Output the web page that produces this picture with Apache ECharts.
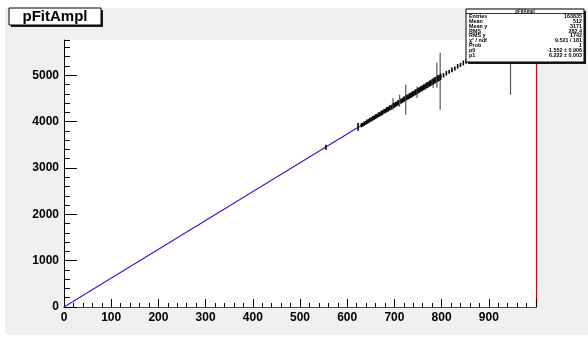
<!DOCTYPE html>
<html>
<head>
<meta charset="utf-8">
<script src="https://cdn.jsdelivr.net/npm/echarts@6/dist/echarts.min.js"></script>
<style>
  html, body { margin: 0; padding: 0; background: #ffffff; }
  #chart { width: 588px; height: 338px; }
</style>
</head>
<body>
<div id="chart"></div>
<script>
// Profile points: bin centre, mean amplitude, error on the mean
const profX = [555, 623, 630, 633, 636, 639, 642, 645, 648, 651, 654, 657, 660, 663, 666, 669, 672, 675, 678, 681,
  684, 687, 690, 693, 696, 697, 699, 702, 705, 708, 711, 714, 717, 720, 723, 724, 726, 729, 732, 735,
  738, 741, 744, 747, 748, 750, 753, 756, 759, 762, 765, 768, 771, 774, 777, 780, 782, 783, 786, 789,
  790, 792, 795, 797, 798, 804, 810, 816, 822, 828, 834, 840, 846, 852, 858, 864, 946];
const profY = [3445, 3885, 3921, 3934, 3958, 3971, 3996, 4009, 4033, 4046, 4070, 4083, 4108, 4120, 4145, 4158, 4182, 4195, 4220, 4232,
  4257, 4270, 4294, 4307, 4332, 4382, 4345, 4369, 4382, 4406, 4450, 4443, 4457, 4481, 4494, 4471, 4518, 4531, 4556, 4569,
  4593, 4606, 4630, 4643, 4630, 4668, 4681, 4705, 4718, 4742, 4755, 4780, 4793, 4817, 4830, 4854, 4838, 4867, 4892, 4905,
  5000, 4929, 4942, 4870, 4966, 4998, 5041, 5072, 5116, 5147, 5191, 5222, 5265, 5297, 5340, 5371, 5230];
const profErr = [55, 85, 45, 42, 46, 44, 48, 45, 48, 44, 50, 47, 51, 46, 52, 48, 54, 50, 53, 49,
  56, 52, 55, 51, 58, 127, 54, 57, 53, 59, 130, 56, 54, 60, 56, 324, 59, 56, 62, 58,
  61, 57, 62, 59, 120, 62, 59, 64, 60, 64, 61, 66, 62, 66, 63, 67, 108, 64, 68, 65,
  270, 69, 66, 615, 68, 45, 48, 42, 50, 44, 49, 46, 52, 47, 50, 48, 650];

// Linear fit pol1: p0 + p1 * x over the fit range
const p0 = -1.552;
const p1 = 6.222;
const fitRange = [0, 800];
const fitLine = fitRange.map(x => [x, p0 + p1 * x]);

// Axis ticks
const xTicks = [0, 100, 200, 300, 400, 500, 600, 700, 800, 900];
const yTicks = [0, 1000, 2000, 3000, 4000, 5000];

// Statistics panel rows
const statNames = ['Entries', 'Mean', 'Mean y', 'RMS', 'RMS y', '\u03C7\u00B2 / ndf', 'Prob', 'p0', 'p1'];
const statValues = ['163835', '512', '3171', '282.4', '1742', '9.521 / 181', '1', '-1.552 \u00B1 0.906', '6.222 \u00B1 0.003'];

const histName = 'pFitAmpl';
const FONT = '"Liberation Sans", Arial, Helvetica, sans-serif';

const chart = echarts.init(document.getElementById('chart'), null, { renderer: 'canvas' });

const profData = profX.map((x, i) => [x, profY[i], profErr[i]]);

// Statistics box graphics
const statBox = { left: 466, top: 9, width: 118, height: 53 };
const statElems = [
  { type: 'rect', shape: { x: statBox.left + 2, y: statBox.top + 2, width: statBox.width, height: statBox.height },
    style: { fill: '#1a1a1a' }, z: 100 },
  { type: 'rect', shape: { x: statBox.left, y: statBox.top, width: statBox.width, height: statBox.height },
    style: { fill: '#ffffff', stroke: '#000000', lineWidth: 1 }, z: 101 },
  { type: 'line', shape: { x1: statBox.left, y1: statBox.top + 4.5, x2: statBox.left + statBox.width, y2: statBox.top + 4.5 },
    style: { stroke: '#000', lineWidth: 0.8 }, z: 102 },
  { type: 'text', x: statBox.left + statBox.width / 2, y: statBox.top + 2.3, z: 102,
    style: { text: histName, font: 'bold 4.5px ' + FONT, fill: '#000', align: 'center', verticalAlign: 'middle' } }
];
statNames.forEach((name, i) => {
  const yy = statBox.top + 7.2 + i * 4.95;
  statElems.push({ type: 'text', x: statBox.left + 3, y: yy, z: 102,
    style: { text: name, font: 'bold 5.4px ' + FONT, fill: '#000', align: 'left', verticalAlign: 'middle' } });
  statElems.push({ type: 'text', x: statBox.left + statBox.width - 2, y: yy, z: 102,
    style: { text: statValues[i], font: 'bold 5.4px ' + FONT, fill: '#000', align: 'right', verticalAlign: 'middle' } });
});

const option = {
  animation: false,
  backgroundColor: '#ffffff',
  grid: { left: 64, right: 52, top: 40, bottom: 31, show: true, backgroundColor: '#ffffff', borderWidth: 0 },
  xAxis: [
    {
      type: 'value', min: 0, max: 1000, interval: 100, position: 'bottom',
      axisLine: { show: true, lineStyle: { color: '#9c1a1a', width: 1.2 } },
      axisTick: { show: true, inside: true, length: 8, lineStyle: { color: '#000', width: 1 } },
      minorTick: { show: true, splitNumber: 5, length: 4, lineStyle: { color: '#000', width: 1 } },
      axisLabel: {
        show: true, margin: 5, fontFamily: FONT, fontWeight: 'bold', fontSize: 12, color: '#000',
        showMaxLabel: false,
        formatter: v => (xTicks.indexOf(v) >= 0 ? String(v) : '')
      },
      splitLine: { show: false }
    },
    {
      type: 'value', min: 0, max: 1000, position: 'top',
      axisLine: { show: true, lineStyle: { color: '#4a4a4a', width: 1 } },
      axisTick: { show: false }, axisLabel: { show: false }, splitLine: { show: false }
    }
  ],
  yAxis: [
    {
      type: 'value', min: 0, max: 5760, interval: 1000, position: 'left',
      axisLine: { show: true, lineStyle: { color: '#000', width: 1 } },
      axisTick: { show: true, inside: true, length: 13, lineStyle: { color: '#000', width: 1 } },
      axisLabel: {
        show: true, margin: 5, fontFamily: FONT, fontWeight: 'bold', fontSize: 12, color: '#000',
        showMaxLabel: false,
        formatter: v => (yTicks.indexOf(v) >= 0 ? String(v) : '')
      },
      splitLine: { show: false }
    },
    {
      type: 'value', min: 0, max: 5760, interval: 200, position: 'left',
      axisLine: { show: false },
      axisTick: { show: true, inside: true, length: 6, lineStyle: { color: '#000', width: 1 } },
      axisLabel: { show: false }, splitLine: { show: false }
    },
    {
      type: 'value', min: 0, max: 5760, position: 'right',
      axisLine: { show: true, lineStyle: { color: '#b01010', width: 1.2 } },
      axisTick: { show: false }, axisLabel: { show: false }, splitLine: { show: false }
    }
  ],
  graphic: [
    // canvas pad
    { type: 'rect', shape: { x: 5, y: 8, width: 583, height: 327 }, style: { fill: '#f0f0f0' }, z: -10, silent: true },
    // title box
    { type: 'rect', shape: { x: 11, y: 10, width: 92, height: 17 }, style: { fill: '#1a1a1a' }, z: 100 },
    { type: 'rect', shape: { x: 9, y: 8, width: 92, height: 17 }, style: { fill: '#ffffff', stroke: '#000', lineWidth: 1 }, z: 101 },
    { type: 'text', x: 55, y: 17, z: 102,
      style: { text: histName, font: 'bold 15px ' + FONT, fill: '#000', align: 'center', verticalAlign: 'middle' } }
  ].concat(statElems),
  series: [
    {
      type: 'line', xAxisIndex: 0, yAxisIndex: 0, data: fitLine, showSymbol: false, z: 2,
      lineStyle: { color: '#2525c8', width: 1.2 }
    },
    {
      type: 'custom', xAxisIndex: 0, yAxisIndex: 0, data: profData, z: 3,
      renderItem: (params, api) => {
        const x = api.value(0), y = api.value(1), e = api.value(2);
        const top = api.coord([x, y + e]);
        const bot = api.coord([x, y - e]);
        const cs = params.coordSys;
        const y1 = Math.max(top[1], cs.y);
        const y2 = Math.min(bot[1], cs.y + cs.height);
        const wide = e > 100;
        return {
          type: 'line',
          shape: { x1: top[0], y1: y1, x2: bot[0], y2: y2 },
          style: { stroke: wide ? '#555' : '#000', lineWidth: wide ? 1.2 : 1.6 }
        };
      }
    }
  ]
};

chart.setOption(option);
</script>
</body>
</html>
